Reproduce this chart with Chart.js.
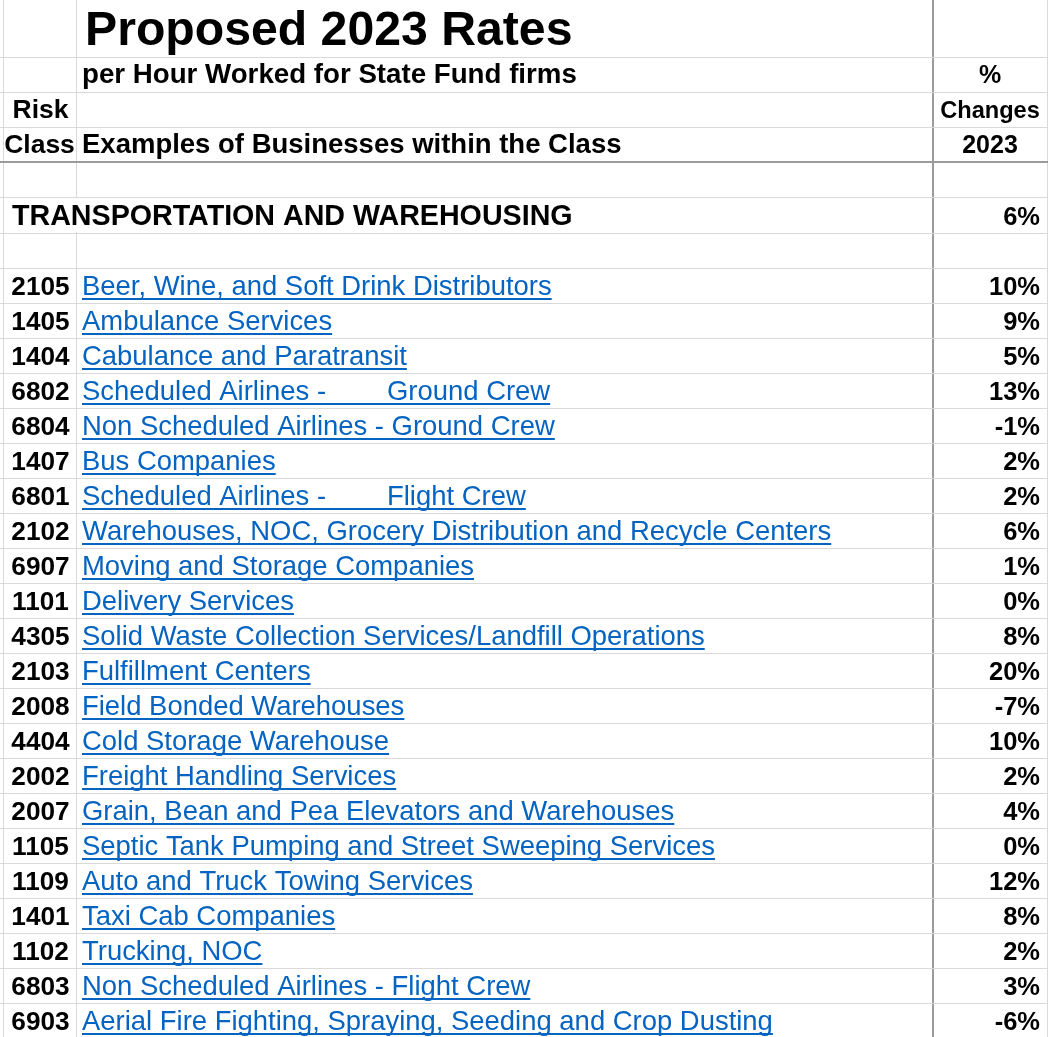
<!DOCTYPE html>
<html>
<head>
<meta charset="utf-8">
<script src="https://cdn.jsdelivr.net/npm/chart.js@4.4.0/dist/chart.umd.min.js"></script>
<style>
html,body{margin:0;padding:0;background:#ffffff;}
#wrap{width:1048px;height:1037px;position:relative;overflow:hidden;}
</style>
</head>
<body>
<div id="wrap"><canvas id="c" width="1048" height="1037"></canvas></div>
<script>
// ---------- data ----------
const titleText = "Proposed 2023 Rates";
const subtitleText = "per Hour Worked for State Fund firms";
const headerLeft = ["Risk", "Class"];
const headerMid = "Examples of Businesses within the Class";
const headerRight = ["%", "Changes", "2023"];
const sectionName = "TRANSPORTATION AND WAREHOUSING";
const sectionChange = 6;

const classCodes = ["2105","1405","1404","6802","6804","1407","6801","2102","6907","1101","4305",
  "2103","2008","4404","2002","2007","1105","1109","1401","1102","6803","6903"];

const businesses = [
  "Beer, Wine, and Soft Drink Distributors",
  "Ambulance Services",
  "Cabulance and Paratransit",
  "Scheduled Airlines -        Ground Crew",
  "Non Scheduled Airlines - Ground Crew",
  "Bus Companies",
  "Scheduled Airlines -        Flight Crew",
  "Warehouses, NOC, Grocery Distribution and Recycle Centers",
  "Moving and Storage Companies",
  "Delivery Services",
  "Solid Waste Collection Services/Landfill Operations",
  "Fulfillment Centers",
  "Field Bonded Warehouses",
  "Cold Storage Warehouse",
  "Freight Handling Services",
  "Grain, Bean and Pea Elevators and Warehouses",
  "Septic Tank Pumping and Street Sweeping Services",
  "Auto and Truck Towing Services",
  "Taxi Cab Companies",
  "Trucking, NOC",
  "Non Scheduled Airlines - Flight Crew",
  "Aerial Fire Fighting, Spraying, Seeding and Crop Dusting"
];

const changes2023 = [10, 9, 5, 13, -1, 2, 2, 6, 1, 0, 8, 20, -7, 10, 2, 4, 0, 12, 8, 2, 3, -6];

// ---------- layout (sheet units) ----------
const colEdges = [3, 76, 933, 1047];
const headerRowEdges = [0, 57, 92, 127, 162, 197, 233, 268];
const dataRowHeight = 35;
const rowEdges = headerRowEdges.slice();
for (let i = 0; i < classCodes.length; i++) rowEdges.push(rowEdges[rowEdges.length - 1] + dataRowHeight);
const FIRST_DATA_ROW = 7;
const DARK_X = 933, DARK_Y = 162;

const FONT = '"Liberation Sans", Arial, sans-serif';
const LINK = '#0563C1';

const tablePlugin = {
  id: 'sheetTable',
  afterDraw(chart) {
    const ctx = chart.ctx;
    const xs = chart.scales.x, ys = chart.scales.y;
    const X = v => xs.getPixelForValue(v);
    const bottom = r => ys.getPixelForValue(rowEdges[r + 1]);
    const top = r => ys.getPixelForValue(rowEdges[r]);
    const c1mid = (X(colEdges[0]) + X(colEdges[1])) / 2;
    const c2left = X(colEdges[1]) + 6;
    const c3mid = (X(colEdges[2]) + X(colEdges[3])) / 2;
    const c3right = X(colEdges[3]) - 7;

    function txt(s, x, y, font, align, color) {
      ctx.font = font;
      ctx.textAlign = align;
      ctx.textBaseline = 'alphabetic';
      ctx.fillStyle = color || '#000000';
      ctx.fillText(s, x, y);
    }
    ctx.save();

    // title block
    txt(titleText, X(colEdges[1]) + 9, bottom(0) - 12, 'bold 48.2px ' + FONT, 'left');
    txt(subtitleText, c2left, bottom(1) - 9, 'bold 27.7px ' + FONT, 'left');
    txt(headerLeft[0], c1mid + 1, bottom(2) - 9, 'bold 26.5px ' + FONT, 'center');
    txt(headerLeft[1], c1mid, bottom(3) - 9, 'bold 26.5px ' + FONT, 'center');
    txt(headerMid, c2left, bottom(3) - 9, 'bold 27.5px ' + FONT, 'left');
    txt(headerRight[0], c3mid, bottom(1) - 9, 'bold 25px ' + FONT, 'center');
    txt(headerRight[1], c3mid, bottom(2) - 9, 'bold 23.6px ' + FONT, 'center');
    txt(headerRight[2], c3mid, bottom(3) - 9, 'bold 25px ' + FONT, 'center');

    // section row: text overflows across the column line, hide it like a sheet does
    ctx.font = 'bold 28.65px ' + FONT;
    const secW = ctx.measureText(sectionName).width;
    ctx.fillStyle = '#ffffff';
    ctx.fillRect(X(colEdges[0]) + 2, top(5) + 1, secW, bottom(5) - top(5) - 2);
    txt(sectionName, X(colEdges[0]) + 9, bottom(5) - 8, 'bold 28.65px ' + FONT, 'left');
    txt(sectionChange + '%', c3right, bottom(5) - 8, 'bold 25.5px ' + FONT, 'right');

    // data rows
    for (let i = 0; i < classCodes.length; i++) {
      const r = FIRST_DATA_ROW + i;
      const base = bottom(r) - 8;
      txt(classCodes[i], c1mid + 1, base, 'bold 26.2px ' + FONT, 'center');
      ctx.font = '27.45px ' + FONT;
      const w = ctx.measureText(businesses[i]).width;
      txt(businesses[i], c2left, base, '27.45px ' + FONT, 'left', LINK);
      ctx.fillStyle = LINK;
      ctx.fillRect(c2left, base + 3, w, 2);
      txt(changes2023[i] + '%', c3right, base, 'bold 25.5px ' + FONT, 'right');
    }
    ctx.restore();
  }
};

new Chart(document.getElementById('c'), {
  type: 'scatter',
  data: { datasets: [] },
  plugins: [tablePlugin],
  options: {
    responsive: false,
    animation: false,
    devicePixelRatio: 1,
    layout: { padding: 0 },
    plugins: { legend: { display: false }, tooltip: { enabled: false }, title: { display: false } },
    scales: {
      x: {
        type: 'linear', min: 0, max: 1048,
        afterBuildTicks: s => { s.ticks = colEdges.map(v => ({ value: v })); },
        ticks: { display: false },
        border: { display: false },
        grid: {
          drawTicks: false,
          color: c => (c.tick && c.tick.value === DARK_X) ? '#9b9b9b' : '#d9d9d9',
          lineWidth: c => (c.tick && c.tick.value === DARK_X) ? 2 : 1
        }
      },
      y: {
        type: 'linear', min: 0, max: 1037, reverse: true,
        afterBuildTicks: s => { s.ticks = rowEdges.slice(1).map(v => ({ value: v })); },
        ticks: { display: false },
        border: { display: false },
        grid: {
          drawTicks: false,
          color: c => (c.tick && c.tick.value === DARK_Y) ? '#9b9b9b' : '#d9d9d9',
          lineWidth: c => (c.tick && c.tick.value === DARK_Y) ? 2 : 1
        }
      }
    }
  }
});
</script>
</body>
</html>
